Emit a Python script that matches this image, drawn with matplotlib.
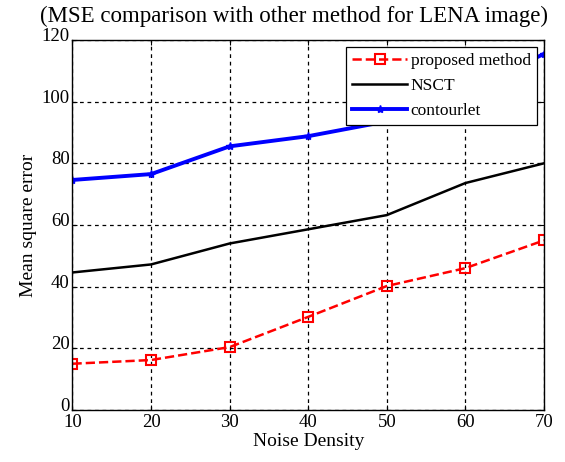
import numpy as np
import matplotlib.pyplot as plt
import matplotlib.transforms as mtransforms

plt.rcParams['font.family'] = ['Liberation Serif', 'DejaVu Serif']

noise = [10, 20, 30, 40, 50, 60, 70]
proposed = [15, 16.2, 20.4, 30.2, 40.2, 46, 55]
nsct = [44.6, 47.2, 54, 58.6, 63.2, 73.6, 80]
contourlet = [74.6, 76.5, 85.5, 88.8, 93.6, 103, 115.5]

fig = plt.figure(figsize=(5.65, 4.62), dpi=100)
ax = fig.add_axes([0.1283, 0.1126, 0.8345, 0.8009])

ax.plot(noise, proposed, 'r--', marker='s', markersize=7, markerfacecolor='none',
        markeredgewidth=1.5, linewidth=1.8, label='proposed method')
ax.plot(noise, nsct, 'k-', linewidth=1.8, label='NSCT')
ax.plot(noise, contourlet, 'b-', marker='*', markersize=6, linewidth=2.8, label='contourlet')

ax.set_xlim(10, 70)
ax.set_ylim(0, 120)
ax.set_xticks(noise)
ax.set_yticks(np.arange(0, 121, 20))
ax.grid(True, color='k', linestyle=(0, (3, 3)), linewidth=0.9)
ax.tick_params(direction='in', top=True, right=True, labelsize=13.5, pad=3)
ax.tick_params(axis='y', pad=2)
# y labels sit a little high, like the original
shift = mtransforms.ScaledTranslation(0, 4 / 72, fig.dpi_scale_trans)
for lbl in ax.get_yticklabels():
    lbl.set_transform(lbl.get_transform() + shift)
for s in ax.spines.values():
    s.set_linewidth(1.0)

ax.set_xlabel('Noise Density', fontsize=14, labelpad=1)
ax.set_ylabel('Mean square error', fontsize=14, labelpad=3)
ax.set_title('(MSE comparison with other method for LENA image)', fontsize=16.5, pad=13, x=0.47)

leg = ax.legend(loc='upper right', fontsize=12.5, frameon=True, fancybox=False,
                framealpha=1, edgecolor='k', borderpad=0.35, labelspacing=0.5,
                handlelength=3.2, handletextpad=0.2, borderaxespad=0.4)
leg.get_frame().set_linewidth(0.9)

fig.savefig('out.png', dpi=100)
